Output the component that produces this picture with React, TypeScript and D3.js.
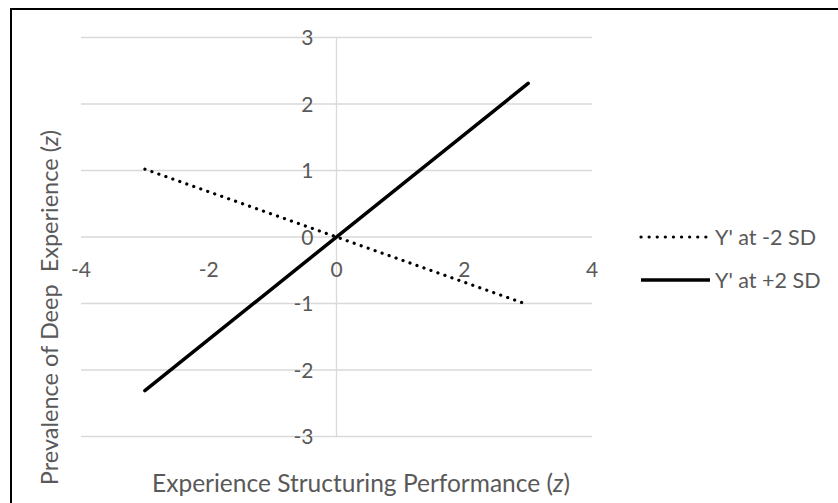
import React, { useEffect, useRef } from 'react';
import * as d3 from 'd3';

// chart data
const xTicks = [-4, -2, 0, 2, 4];
const yTicks = [-3, -2, -1, 0, 1, 2, 3];
const xValues = [-3, 3];
const lowSD = [1.02, -1.02];
const highSD = [-2.31, 2.31];
const seriesNames = ["Y' at -2 SD", "Y' at +2 SD"];

const W = 838;
const H = 503;
const textColor = '#595959';
const gridColor = '#d9d9d9';
const font = 'Lato, Carlito, Calibri, sans-serif';

const drawChart = (node: SVGSVGElement) => {
    const svg = d3.select(node);
    svg.selectAll('*').remove();

    // plot area
    const x = d3.scaleLinear().domain([-4, 4]).range([81, 592]);
    const y = d3.scaleLinear().domain([-3, 3]).range([436.5, 37.5]);

    // outer border (cropped on right and bottom)
    svg.append('rect')
        .attr('x', 11).attr('y', 9)
        .attr('width', W).attr('height', H)
        .attr('fill', 'none')
        .attr('stroke', '#000')
        .attr('stroke-width', 2);

    // horizontal gridlines
    svg.append('g')
        .selectAll('line')
        .data(yTicks)
        .enter().append('line')
        .attr('x1', x(-4)).attr('x2', x(4))
        .attr('y1', (d) => y(d)).attr('y2', (d) => y(d))
        .attr('stroke', gridColor)
        .attr('stroke-width', 1.3);

    // vertical axis at x = 0
    svg.append('line')
        .attr('x1', x(0)).attr('x2', x(0))
        .attr('y1', y(3)).attr('y2', y(-3))
        .attr('stroke', gridColor)
        .attr('stroke-width', 1.3);

    // y tick labels
    svg.append('g')
        .selectAll('text')
        .data(yTicks)
        .enter().append('text')
        .attr('x', x(0) - 23)
        .attr('y', (d) => y(d) + 7.5)
        .attr('text-anchor', 'end')
        .style('font-family', font)
        .style('font-size', '21px')
        .style('fill', textColor)
        .text((d) => d);

    // x tick labels
    svg.append('g')
        .selectAll('text')
        .data(xTicks)
        .enter().append('text')
        .attr('x', (d) => x(d))
        .attr('y', y(0) + 40)
        .attr('text-anchor', 'middle')
        .style('font-family', font)
        .style('font-size', '21px')
        .style('fill', textColor)
        .text((d) => d);

    const line = d3.line<number>()
        .x((d, i) => x(xValues[i]))
        .y((d) => y(d));

    // Y' at -2 SD (dotted)
    svg.append('path')
        .datum(lowSD)
        .attr('fill', 'none')
        .attr('stroke', '#000')
        .attr('stroke-width', 3.2)
        .attr('stroke-linecap', 'round')
        .attr('stroke-dasharray', '0.1, 7.3')
        .attr('d', line);

    // Y' at +2 SD (solid)
    svg.append('path')
        .datum(highSD)
        .attr('fill', 'none')
        .attr('stroke', '#000')
        .attr('stroke-width', 3.5)
        .attr('stroke-linecap', 'round')
        .attr('d', line);

    // axis titles
    const xt = svg.append('text')
        .attr('x', 361)
        .attr('y', 492)
        .attr('text-anchor', 'middle')
        .style('font-family', font)
        .style('font-size', '24.5px')
        .style('fill', textColor);
    xt.append('tspan').text('Experience Structuring Performance (');
    xt.append('tspan').style('font-style', 'italic').text('z');
    xt.append('tspan').text(')');

    const yt = svg.append('text')
        .attr('transform', 'translate(58,307.5) rotate(-90)')
        .attr('text-anchor', 'middle')
        .style('font-family', font)
        .style('font-size', '23.5px')
        .style('fill', textColor)
        .style('white-space', 'pre');
    yt.append('tspan').text('Prevalence of Deep  Experience (');
    yt.append('tspan').style('font-style', 'italic').text('z');
    yt.append('tspan').text(')');

    // legend
    const legendY = [237, 280];
    svg.append('line')
        .attr('x1', 641).attr('x2', 709)
        .attr('y1', legendY[0]).attr('y2', legendY[0])
        .attr('stroke', '#000')
        .attr('stroke-width', 3.2)
        .attr('stroke-linecap', 'round')
        .attr('stroke-dasharray', '0.1, 8');
    svg.append('line')
        .attr('x1', 641).attr('x2', 710)
        .attr('y1', legendY[1]).attr('y2', legendY[1])
        .attr('stroke', '#000')
        .attr('stroke-width', 3.5);
    svg.append('g')
        .selectAll('text')
        .data(seriesNames)
        .enter().append('text')
        .attr('x', 715)
        .attr('y', (d, i) => legendY[i] + 8)
        .style('font-family', font)
        .style('font-size', '21.5px')
        .style('fill', textColor)
        .text((d) => d);
};

const App = () => {
    const ref = useRef<SVGSVGElement>(null);

    useEffect(() => {
        if (ref.current) drawChart(ref.current);
    }, []);

    return (
        <svg
            ref={ref}
            width={W}
            height={H}
            style={{ position: 'absolute', left: 0, top: 0, background: '#fff' }}
        />
    );
};

export default App;
